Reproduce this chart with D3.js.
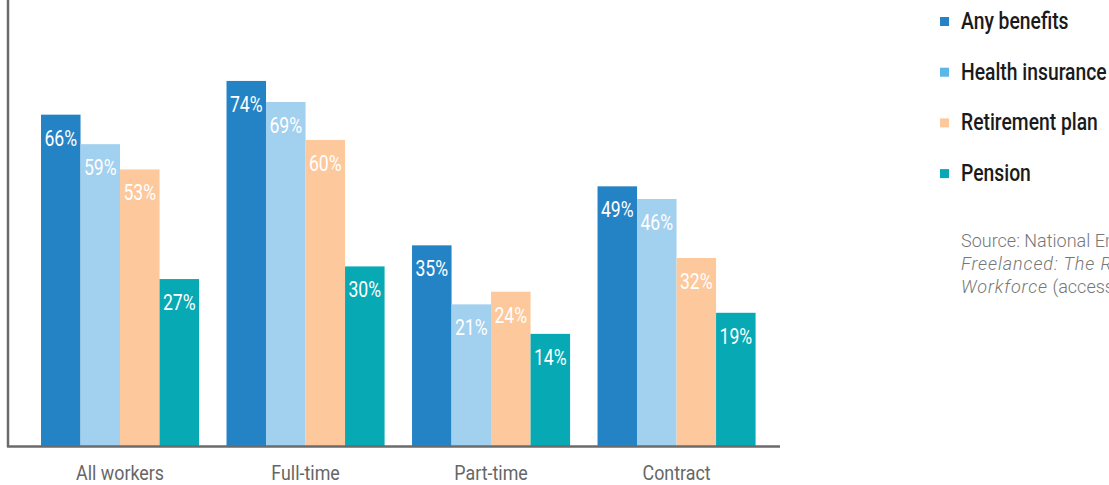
<!DOCTYPE html>
<html>
<head>
<meta charset="utf-8">
<script src="https://cdn.jsdelivr.net/npm/d3@7"></script>
<style>
  body { margin: 0; background: #fff; overflow: hidden; }
  .cond { font-family: Roboto, "Noto Sans", sans-serif; font-weight: 500; }
  .src { font-family: Roboto, "Open Sans", sans-serif; font-weight: 300; }
</style>
</head>
<body>
<div id="chart"></div>
<script>
// Dados do gráfico
const categories = ['All workers', 'Full-time', 'Part-time', 'Contract'];
const seriesNames = ['Any benefits', 'Health insurance', 'Retirement plan', 'Pension'];
const anyBenefits = [66, 74, 35, 49];
const healthInsurance = [59, 69, 21, 46];
const retirementPlan = [53, 60, 24, 32];
const pension = [27, 30, 14, 19];
const seriesValues = [anyBenefits, healthInsurance, retirementPlan, pension];

const barColors = ['#2483c5', '#a2d0ef', '#fdc89c', '#06a9b4'];
const legendColors = ['#2483c5', '#5cb6e7', '#fdc89c', '#06a9b4'];

const width = 1109, height = 485;

const svg = d3.select('#chart')
  .append('svg')
  .attr('width', width)
  .attr('height', height);

// Escalas
const x0 = d3.scaleBand()
  .domain(categories)
  .range([8, 788.6])
  .paddingInner(0.148)
  .paddingOuter(0.178);

const x1 = d3.scaleBand()
  .domain(seriesNames)
  .range([0, x0.bandwidth()]);

// o eixo começa abaixo do zero (barras descem até a linha base)
const y = d3.scaleLinear()
  .domain([-12.6, 93.2])
  .range([446, 0]);

/** Texto condensado (escala horizontal) */
function condText(sel, x, yy, squeeze) {
  return sel.append('text')
    .attr('class', 'cond')
    .attr('transform', `translate(${x},${yy}) scale(${squeeze},1)`);
}

// Barras
const groups = svg.selectAll('.group')
  .data(categories)
  .enter()
  .append('g')
  .attr('class', 'group')
  .attr('transform', (c) => `translate(${x0(c)},0)`);

const cells = (c, i) => seriesNames.map((s, j) => ({ s, j, v: seriesValues[j][i] }));

groups.selectAll('rect')
  .data(cells)
  .enter()
  .append('rect')
  .attr('x', (d) => x1(d.s))
  .attr('width', x1.bandwidth())
  .attr('y', (d) => y(d.v))
  .attr('height', (d) => y.range()[0] - y(d.v))
  .attr('fill', (d) => barColors[d.j]);

groups.selectAll('g.lbl')
  .data(cells)
  .enter()
  .append('g')
  .attr('class', 'lbl')
  .each(function (d) {
    condText(d3.select(this), x1(d.s) + x1.bandwidth() / 2, y(d.v) + 31, 0.8)
      .attr('text-anchor', 'middle')
      .attr('fill', '#fff')
      .style('font-size', '22px')
      .style('font-weight', '400')
      .text(d.v + '%');
  });

// Eixos
svg.append('line')
  .attr('x1', 8).attr('x2', 8)
  .attr('y1', 0).attr('y2', 447)
  .attr('stroke', '#6b6b6b').attr('stroke-width', 2.5);

svg.append('line')
  .attr('x1', 7).attr('x2', 780)
  .attr('y1', 446.5).attr('y2', 446.5)
  .attr('stroke', '#6b6b6b').attr('stroke-width', 2.5);

categories.forEach((c) => {
  condText(svg, x0(c) + x0.bandwidth() / 2, 480, 0.85)
    .attr('text-anchor', 'middle')
    .attr('fill', '#666')
    .style('font-size', '21px')
    .style('font-weight', '400')
    .text(c);
});

// Legenda
seriesNames.forEach((s, i) => {
  const yy = 21 + i * 50.7;
  svg.append('rect')
    .attr('x', 940).attr('y', yy - 4)
    .attr('width', 9).attr('height', 9)
    .attr('fill', legendColors[i]);
  condText(svg, 961, yy + 8, 0.84)
    .attr('fill', '#1a1a1a')
    .style('font-size', '23px')
    .text(s);
});

// Fonte
const src = svg.append('text')
  .attr('class', 'src')
  .attr('fill', '#777')
  .style('font-size', '18px');

src.append('tspan').attr('x', 961).attr('y', 247).text('Source: National Employment Law Project,');
src.append('tspan').attr('x', 961).attr('y', 270)
  .style('font-style', 'italic').style('letter-spacing', '0.9px')
  .text('Freelanced: The Rise of the Contract');
const l3 = src.append('tspan').attr('x', 961).attr('y', 293);
l3.append('tspan').style('font-style', 'italic').style('letter-spacing', '0.9px').text('Workforce');
l3.append('tspan').text(' (accessed 2019)');
</script>
</body>
</html>
